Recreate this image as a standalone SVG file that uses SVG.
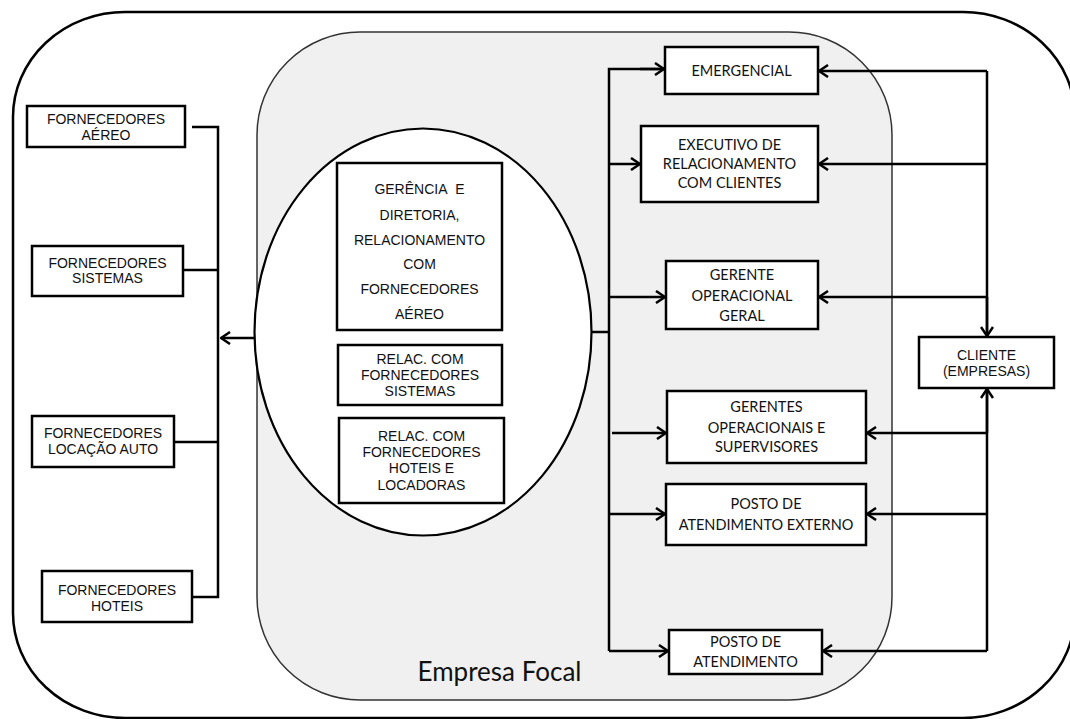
<svg xmlns="http://www.w3.org/2000/svg" width="1070" height="719" viewBox="0 0 1070 719">
<defs>
<style>
.box{fill:#fff;stroke:#000;stroke-width:2.5}
.ar{font-family:"Liberation Sans",Arial,sans-serif;font-size:14px;fill:#111;text-anchor:middle}
.cb{font-family:Lato,"Open Sans",sans-serif;font-size:14.5px;fill:#111;text-anchor:middle}
.ln{fill:none;stroke:#000;stroke-width:2.5}
.lna{fill:none;stroke:#000;stroke-width:2.5;marker-end:url(#arr)}
</style>
<marker id="arr" viewBox="0 0 12 14" refX="11" refY="7" markerWidth="12" markerHeight="14" orient="auto" markerUnits="userSpaceOnUse">
<path d="M2,1 L11,7 L2,13" fill="none" stroke="#000" stroke-width="2.5"/>
</marker>
</defs>
<rect width="1070" height="719" fill="#fff"/>
<g id="outer">
<rect x="13" y="12" width="1062" height="706" rx="112" ry="105" fill="#fff" stroke="#000" stroke-width="2.5"/>
</g>
<g id="empresa-focal">
<rect x="257" y="32" width="635" height="668" rx="103" ry="103" fill="#f0f0f0" stroke="#333" stroke-width="1.5"/>
<text x="499.5" y="681" style="font-family:Lato,'Open Sans',sans-serif;font-size:26px;fill:#111;text-anchor:middle">Empresa Focal</text>
</g>
<g id="connectors">
<polyline class="ln" points="192,127 218,127 218,597 192,597"/>
<line class="ln" x1="183" y1="270" x2="218" y2="270"/>
<line class="ln" x1="174" y1="442" x2="218" y2="442"/>
<line class="lna" x1="255" y1="338" x2="221" y2="338"/>
<line class="ln" x1="592" y1="332" x2="609" y2="332"/>
<polyline class="ln" points="664,69 609,69 609,651"/>
<line class="lna" x1="640" y1="69" x2="664" y2="69"/>
<line class="lna" x1="609" y1="164" x2="640" y2="164"/>
<line class="lna" x1="609" y1="297" x2="665" y2="297"/>
<line class="lna" x1="612" y1="433" x2="666" y2="433"/>
<line class="lna" x1="609" y1="514" x2="665" y2="514"/>
<line class="lna" x1="609" y1="651" x2="668" y2="651"/>
<line class="ln" x1="987" y1="71" x2="987" y2="651"/>
<line class="lna" x1="987" y1="71" x2="819" y2="71"/>
<line class="lna" x1="987" y1="164" x2="819" y2="164"/>
<line class="lna" x1="987" y1="297" x2="819" y2="297"/>
<line class="lna" x1="987" y1="433" x2="867" y2="433"/>
<line class="lna" x1="987" y1="514" x2="867" y2="514"/>
<line class="lna" x1="987" y1="651" x2="823" y2="651"/>
<line class="lna" x1="987" y1="297" x2="987" y2="336"/>
<line class="lna" x1="987" y1="433" x2="987" y2="389"/>
</g>
<g id="ellipse">
<ellipse cx="423" cy="332" rx="168.5" ry="203.5" fill="#fff" stroke="#000" stroke-width="2.2"/>
</g>
<g id="forn-aereo">
<rect class="box" x="27" y="106" width="158" height="41"/>
<text class="ar" x="106" y="124">FORNECEDORES</text>
<text class="ar" x="106" y="140">AÉREO</text>
</g>
<g id="forn-sistemas">
<rect class="box" x="32" y="246" width="151" height="50"/>
<text class="ar" x="107.5" y="268">FORNECEDORES</text>
<text class="ar" x="107.5" y="283">SISTEMAS</text>
</g>
<g id="forn-locacao">
<rect class="box" x="32" y="416" width="142" height="51"/>
<text class="ar" x="103" y="438">FORNECEDORES</text>
<text class="ar" x="103" y="454">LOCAÇÃO AUTO</text>
</g>
<g id="forn-hoteis">
<rect class="box" x="42" y="571" width="150" height="51"/>
<text class="ar" x="117" y="595">FORNECEDORES</text>
<text class="ar" x="117" y="611">HOTEIS</text>
</g>
<g id="gerencia">
<rect class="box" x="337" y="163" width="165" height="167"/>
<text class="ar" x="419.5" y="194">GERÊNCIA&#160; E</text>
<text class="ar" x="419.5" y="220">DIRETORIA,</text>
<text class="ar" x="419.5" y="245">RELACIONAMENTO</text>
<text class="ar" x="419.5" y="269">COM</text>
<text class="ar" x="419.5" y="294">FORNECEDORES</text>
<text class="ar" x="419.5" y="319">AÉREO</text>
</g>
<g id="relac-sistemas">
<rect class="box" x="338" y="345" width="164" height="60"/>
<text class="ar" x="420" y="364">RELAC. COM</text>
<text class="ar" x="420" y="380">FORNECEDORES</text>
<text class="ar" x="420" y="396">SISTEMAS</text>
</g>
<g id="relac-hoteis">
<rect class="box" x="339" y="418" width="165" height="85"/>
<text class="ar" x="421.5" y="441">RELAC. COM</text>
<text class="ar" x="421.5" y="457">FORNECEDORES</text>
<text class="ar" x="421.5" y="473">HOTEIS E</text>
<text class="ar" x="421.5" y="490">LOCADORAS</text>
</g>
<g id="emergencial">
<rect class="box" x="665" y="47" width="153" height="47"/>
<text class="cb" x="741.5" y="76">EMERGENCIAL</text>
</g>
<g id="executivo">
<rect class="box" x="641" y="126" width="177" height="76"/>
<text class="cb" x="729.5" y="150">EXECUTIVO DE</text>
<text class="cb" x="729.5" y="169">RELACIONAMENTO</text>
<text class="cb" x="729.5" y="188">COM CLIENTES</text>
</g>
<g id="gerente-geral">
<rect class="box" x="666" y="261" width="152" height="68"/>
<text class="cb" x="742" y="280">GERENTE</text>
<text class="cb" x="742" y="301">OPERACIONAL</text>
<text class="cb" x="742" y="321">GERAL</text>
</g>
<g id="gerentes-op">
<rect class="box" x="667" y="391" width="199" height="72"/>
<text class="cb" x="766.5" y="412">GERENTES</text>
<text class="cb" x="766.5" y="433">OPERACIONAIS E</text>
<text class="cb" x="766.5" y="452">SUPERVISORES</text>
</g>
<g id="posto-externo">
<rect class="box" x="666" y="484" width="200" height="61"/>
<text class="cb" x="766" y="509">POSTO DE</text>
<text class="cb" x="766" y="530">ATENDIMENTO EXTERNO</text>
</g>
<g id="posto">
<rect class="box" x="669" y="630" width="153" height="44"/>
<text class="cb" x="745.5" y="647">POSTO DE</text>
<text class="cb" x="745.5" y="667">ATENDIMENTO</text>
</g>
<g id="cliente">
<rect class="box" x="919" y="337" width="135" height="51"/>
<text class="ar" x="986.5" y="360">CLIENTE</text>
<text class="ar" x="986.5" y="376">(EMPRESAS)</text>
</g>
</svg>
